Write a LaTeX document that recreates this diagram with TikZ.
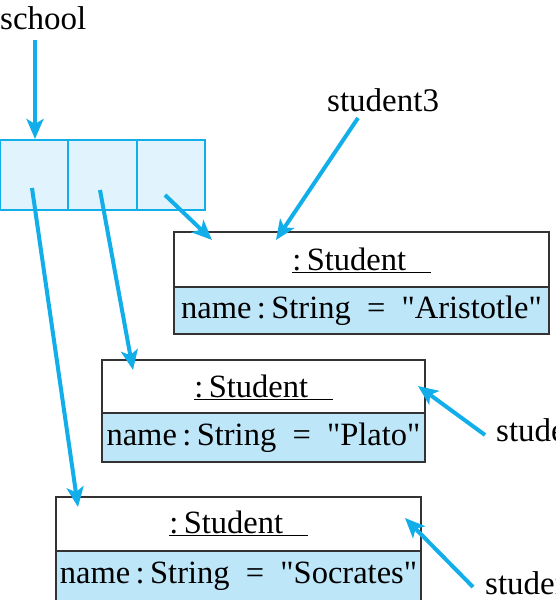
\documentclass[tikz,border=0pt]{standalone}
\usepackage{fontspec}
\setmainfont[Ligatures=TeXOff]{Liberation Serif}
\usetikzlibrary{arrows.meta}
\definecolor{refcyan}{HTML}{12AEEA}
\definecolor{cellfill}{HTML}{E1F3FC}
\definecolor{attrfill}{HTML}{BDE6F9}
\definecolor{boxline}{HTML}{333333}
\tikzset{
  ptr/.style={draw=refcyan, line width=4pt, -{Stealth[length=20pt,width=17pt,inset=5pt]}},
  cell/.style={draw=refcyan, fill=cellfill, line width=1.8pt, minimum width=68.3pt, minimum height=70pt, inner sep=0pt, outer sep=0pt},
  objbox/.style={draw=boxline, line width=1.8pt},
  txt/.style={font=\fontsize{32.5}{38}\selectfont, inner sep=0pt},
  lbl/.style={font=\fontsize{33}{38}\selectfont, inner sep=0pt},
}
\newcommand{\objtitle}{\underline{:\,Student\hspace{0.75em}}}
\begin{document}
\begin{tikzpicture}[x=1pt,y=1pt]
\useasboundingbox (0,0) rectangle (555,600);
\clip (0,0) rectangle (555,600);
% array
\node[cell, anchor=north west] (c1) at (0,460) {};
\node[cell, anchor=west] (c2) at (c1.east) {};
\node[cell, anchor=west] (c3) at (c2.east) {};
% school
\node[lbl, anchor=west] (school) at (0,582) {school};
\coordinate (schoolend) at (35,560);
\draw[ptr] (schoolend) -- (35,461);
% box 1 Aristotle
\filldraw[objbox, fill=attrfill] (174,313) rectangle (549,266);
\draw[objbox] (174,368) rectangle (549,313);
\node[txt] (t1) at (361.5,340) {\objtitle};
\node[txt] (a1) at (361.5,289) {name\,:\,String \ = \ "Aristotle"};
% box 2 Plato
\filldraw[objbox, fill=attrfill] (102,187) rectangle (425,138);
\draw[objbox] (102,240) rectangle (425,187);
\node[txt] (t2) at (263.5,213) {\objtitle};
\node[txt] (a2) at (263.5,162) {name\,:\,String \ = \ "Plato"};
% box 3 Socrates
\filldraw[objbox, fill=attrfill] (56,49) rectangle (421,-2);
\draw[objbox] (56,103) rectangle (421,49);
\node[txt] (t3) at (238.5,77) {\objtitle};
\node[txt] (a3) at (238.5,24) {name\,:\,String \ = \ "Socrates"};
% labels
\node[lbl, anchor=west] (s3) at (327,500) {student3};
\node[lbl, anchor=west] (s2) at (496,170) {student2};
\node[lbl, anchor=west] (s1) at (485,17) {student1};
% pointer coordinates
\coordinate (p3s) at (165,405);
\coordinate (p3e) at (212,360);
\coordinate (p2s) at (100,410);
\coordinate (p2e) at (133,230);
\coordinate (p1s) at (32,412);
\coordinate (p1e) at (78,93);
\coordinate (q3s) at (358,482);
\coordinate (q3e) at (276,360);
\coordinate (q2s) at (485,165);
\coordinate (q2e) at (418,214);
\coordinate (q1s) at (473,13);
\coordinate (q1e) at (405,82);
\draw[ptr] (p3s) -- (p3e);
\draw[ptr] (p2s) -- (p2e);
\draw[ptr] (p1s) -- (p1e);
\draw[ptr] (q3s) -- (q3e);
\draw[ptr] (q2s) -- (q2e);
\draw[ptr] (q1s) -- (q1e);
\end{tikzpicture}
\end{document}
